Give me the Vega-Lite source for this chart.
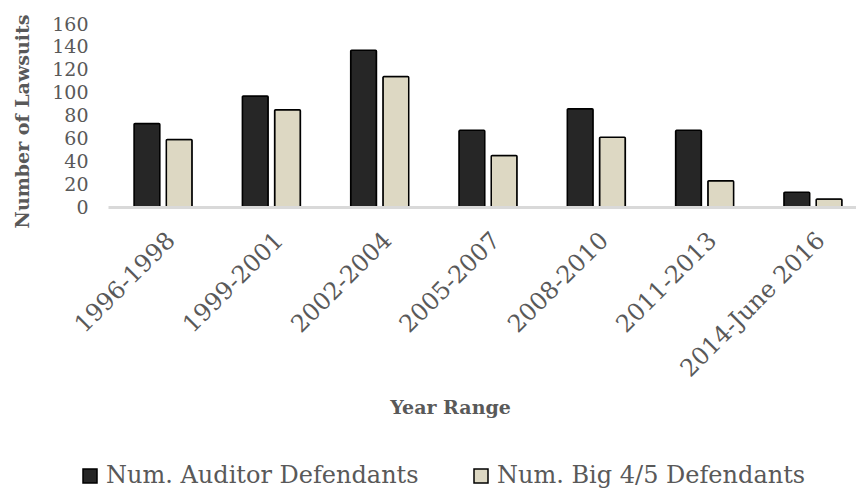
{
  "$schema": "https://vega.github.io/schema/vega-lite/v6.json",
  "autosize": {"type": "none"},
  "padding": {"left": 108, "top": 24, "right": 0, "bottom": 281},
  "width": 748,
  "height": 183,
  "background": "white",
  "config": {
    "font": "DejaVu Serif",
    "view": {"stroke": null}
  },
  "data": {
    "values": [
      {"range": "1996-1998", "series": "Num. Auditor Defendants", "count": 73},
      {"range": "1996-1998", "series": "Num. Big 4/5 Defendants", "count": 59},
      {"range": "1999-2001", "series": "Num. Auditor Defendants", "count": 97},
      {"range": "1999-2001", "series": "Num. Big 4/5 Defendants", "count": 85},
      {"range": "2002-2004", "series": "Num. Auditor Defendants", "count": 137},
      {"range": "2002-2004", "series": "Num. Big 4/5 Defendants", "count": 114},
      {"range": "2005-2007", "series": "Num. Auditor Defendants", "count": 67},
      {"range": "2005-2007", "series": "Num. Big 4/5 Defendants", "count": 45},
      {"range": "2008-2010", "series": "Num. Auditor Defendants", "count": 86},
      {"range": "2008-2010", "series": "Num. Big 4/5 Defendants", "count": 61},
      {"range": "2011-2013", "series": "Num. Auditor Defendants", "count": 67},
      {"range": "2011-2013", "series": "Num. Big 4/5 Defendants", "count": 23},
      {"range": "2014-June 2016", "series": "Num. Auditor Defendants", "count": 13},
      {"range": "2014-June 2016", "series": "Num. Big 4/5 Defendants", "count": 7}
    ]
  },
  "mark": {"type": "bar", "stroke": "black", "strokeWidth": 1.5, "cornerRadius": 1},
  "encoding": {
    "x": {
      "field": "range",
      "type": "nominal",
      "sort": null,
      "scale": {"paddingInner": 0.464, "paddingOuter": 0.185, "align": 0.65},
      "axis": {
        "title": "Year Range",
        "titleFont": "DejaVu Serif",
        "titleFontWeight": "bold",
        "titleFontSize": 19,
        "titleColor": "#595959",
        "titleX": 342,
        "titleY": 206,
        "titleBaseline": "alphabetic",
        "titleAnchor": "middle",
        "labelAngle": -45,
        "labelAlign": "right",
        "labelBaseline": "top",
        "labelFontSize": 24,
        "labelColor": "#595959",
        "labelPadding": 21,
        "labelLimit": 400,
        "ticks": false,
        "tickSize": 0,
        "domainColor": "#d9d9d9",
        "domainWidth": 3,
        "zindex": 1,
        "labelOverlap": false
      }
    },
    "xOffset": {
      "field": "series",
      "type": "nominal",
      "scale": {"paddingInner": 0.2, "paddingOuter": 0}
    },
    "y": {
      "field": "count",
      "type": "quantitative",
      "scale": {"domain": [0, 160], "nice": false},
      "axis": {
        "title": "Number of Lawsuits",
        "titleFontWeight": "bold",
        "titleFontSize": 19,
        "titleColor": "#595959",
        "titleAngle": -90,
        "titleX": -86,
        "titleY": 97,
        "titleBaseline": "middle",
        "titleAnchor": "middle",
        "values": [0, 20, 40, 60, 80, 100, 120, 140, 160],
        "labelFontSize": 19,
        "labelColor": "#595959",
        "labelPadding": 20,
        "ticks": false,
        "tickSize": 0,
        "domain": false,
        "grid": false
      }
    },
    "color": {
      "field": "series",
      "type": "nominal",
      "scale": {
        "domain": ["Num. Auditor Defendants", "Num. Big 4/5 Defendants"],
        "range": ["#262626", "#ddd8c3"]
      },
      "legend": {
        "title": null,
        "orient": "none",
        "direction": "horizontal",
        "legendX": -30,
        "legendY": 440,
        "symbolType": "square",
        "symbolSize": 196,
        "symbolStrokeColor": "black",
        "symbolStrokeWidth": 1.5,
        "labelFontSize": 24,
        "labelColor": "#595959",
        "labelOffset": 4,
        "columnPadding": 50,
        "labelLimit": 500
      }
    }
  }
}
